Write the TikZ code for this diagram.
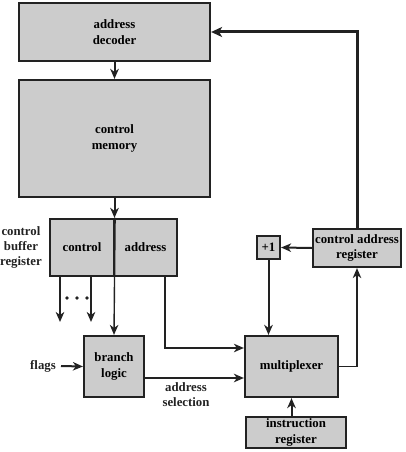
\documentclass[tikz,border=0pt]{standalone}
\usepackage{fontspec}
\setmainfont{Liberation Serif}
\usetikzlibrary{arrows.meta}
\definecolor{boxgray}{HTML}{CCCCCC}
\definecolor{ink}{HTML}{222222}
\begin{document}
\begin{tikzpicture}[x=1pt,y=-1pt,
  blk/.style={draw=ink, line width=2.2pt, fill=boxgray, inner sep=0pt, align=center,
    font=\bfseries\fontsize{12.8}{15.8}\selectfont},
  lbl/.style={inner sep=0pt, align=center, text=ink, font=\bfseries\fontsize{12.8}{15}\selectfont},
  arr/.style={draw=ink, line width=2pt, -{Stealth[length=10pt,width=8.5pt,inset=3pt]}},
  thinarr/.style={draw=ink, line width=1.4pt, -{Stealth[length=10pt,width=8.5pt,inset=3pt]}},
  thickarr/.style={draw=ink, line width=3pt, -{Stealth[length=11pt,width=10pt,inset=3pt]}}]
\useasboundingbox (0,0) rectangle (405,452);
% blocks
\node[blk, minimum width=191pt, minimum height=58pt] (dec) at (114.5,32) {address\\decoder};
\node[blk, minimum width=191pt, minimum height=117pt] (mem) at (114.5,138.5) {control\\memory};
\node[blk, minimum width=64pt, minimum height=57pt] (ctl) at (82,247.5) {control};
\node[blk, minimum width=63pt, minimum height=57pt] (adr) at (145.5,247.5) {address};
\node[lbl, anchor=east] (cbrl) at (42,247.5) {control\\buffer\\register};
\node[blk, minimum width=60pt, minimum height=61pt] (bl) at (114,366.5) {branch\\logic};
\node[blk, minimum width=93pt, minimum height=61pt] (mux) at (291.5,366.5) {multiplexer};
\node[blk, minimum width=23pt, minimum height=23pt] (p1) at (268.5,247.5) {+1};
\node[blk, minimum width=88pt, minimum height=38pt] (car) at (357,248) {control address\\register};
\node[blk, minimum width=100pt, minimum height=31pt] (ir) at (296,432.5) {instruction\\register};
\node[lbl, anchor=east] (flags) at (56,366) {flags};
\node[lbl] (asel) at (186,395) {address\\selection};
% connectors
\draw[arr] (dec.south) -- (mem.north);
\draw[arr] (mem.south) -- (mem.south |- ctl.north);
\draw[thinarr] (ctl.north east) -- (bl.north);
\coordinate (o1) at (60,322);
\coordinate (o2) at (91,322);
\draw[arr] (ctl.south -| o1) -- (o1);
\draw[arr] (ctl.south -| o2) -- (o2);
\fill[ink] (67,298) circle (1.8) (77,298) circle (1.8) (87,298) circle (1.8);
\coordinate (a1) at (165,348);
\draw[thinarr] (adr.south -| a1) -- (a1) -- (mux.west |- a1);
\coordinate (s1) at (144,378);
\draw[arr] (bl.east |- s1) -- (mux.west |- s1);
\draw[arr] (flags.east) ++(5,0) -- (bl.west);
\draw[arr] (car.west) -- (p1.east);
\draw[arr] (p1.south) -- (p1.south |- mux.north);
\draw[arr] (ir.north -| mux.south) -- (mux.south);
\draw[thinarr] (mux.east) -| (car.south);
\draw[thickarr] (car.north) |- (dec.east);
\end{tikzpicture}
\end{document}
